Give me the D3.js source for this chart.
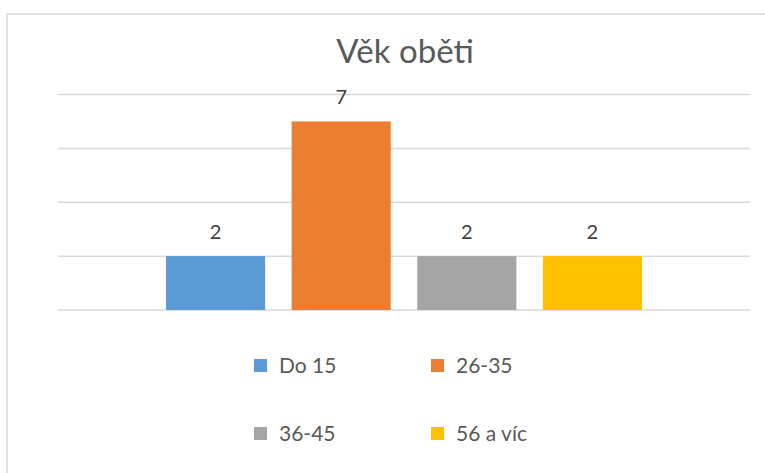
<!DOCTYPE html>
<html>
<head>
<meta charset="utf-8">
<script src="https://cdn.jsdelivr.net/npm/d3@7"></script>
<style>
  body { margin: 0; background: #fff; }
  text { font-family: Lato, "Open Sans", sans-serif; }
</style>
</head>
<body>
<script>
// Data
const series = ["Do 15", "26-35", "36-45", "56 a víc"];
const values = [2, 7, 2, 2];
const colors = ["#5b9bd5", "#ed7d31", "#a5a5a5", "#ffc000"];
const yTicks = [0, 2, 4, 6, 8];

const W = 765, H = 473;
const plot = { left: 58, right: 750, top: 94.5, bottom: 310 };

const svg = d3.select("body").append("svg")
    .attr("width", W)
    .attr("height", H);

// chart border (runs off the right and bottom edges)
svg.append("rect")
    .attr("x", 7).attr("y", 14)
    .attr("width", 800).attr("height", 500)
    .attr("fill", "none")
    .attr("stroke", "#d9d9d9")
    .attr("stroke-width", 1.5);

// Title
svg.append("text")
    .attr("x", 405)
    .attr("y", 63)
    .attr("text-anchor", "middle")
    .attr("fill", "#595959")
    .attr("font-size", 33)
    .text("Věk oběti");

const x = d3.scaleBand()
    .domain(series)
    .range([plot.left, plot.right])
    .paddingInner(0.211)
    .paddingOuter(0.86);

const y = d3.scaleLinear()
    .domain([0, 8])
    .range([plot.bottom, plot.top]);

// gridlines
svg.append("g")
    .selectAll("line")
    .data(yTicks)
    .enter().append("line")
    .attr("x1", plot.left)
    .attr("x2", plot.right)
    .attr("y1", d => y(d))
    .attr("y2", d => y(d))
    .attr("stroke", "#d9d9d9")
    .attr("stroke-width", 1.5);

// bars
svg.append("g")
    .selectAll("rect")
    .data(series)
    .enter().append("rect")
    .attr("x", d => x(d))
    .attr("y", (d, i) => y(values[i]))
    .attr("width", x.bandwidth())
    .attr("height", (d, i) => y(0) - y(values[i]))
    .attr("fill", (d, i) => colors[i]);

// data labels
svg.append("g")
    .selectAll("text")
    .data(series)
    .enter().append("text")
    .attr("x", d => x(d) + x.bandwidth() / 2)
    .attr("y", (d, i) => y(values[i]) - 17)
    .attr("text-anchor", "middle")
    .attr("fill", "#404040")
    .attr("font-size", 20)
    .text((d, i) => values[i]);

// legend, 2 columns
const legend = svg.append("g")
    .selectAll("g")
    .data(series)
    .enter().append("g")
    .attr("transform", (d, i) => `translate(${254 + (i % 2) * 177},${359 + Math.floor(i / 2) * 68})`);

legend.append("rect")
    .attr("width", 13)
    .attr("height", 13)
    .attr("fill", (d, i) => colors[i]);

legend.append("text")
    .attr("x", 25)
    .attr("y", 14)
    .attr("fill", "#595959")
    .attr("font-size", 21)
    .text(d => d);
</script>
</body>
</html>
